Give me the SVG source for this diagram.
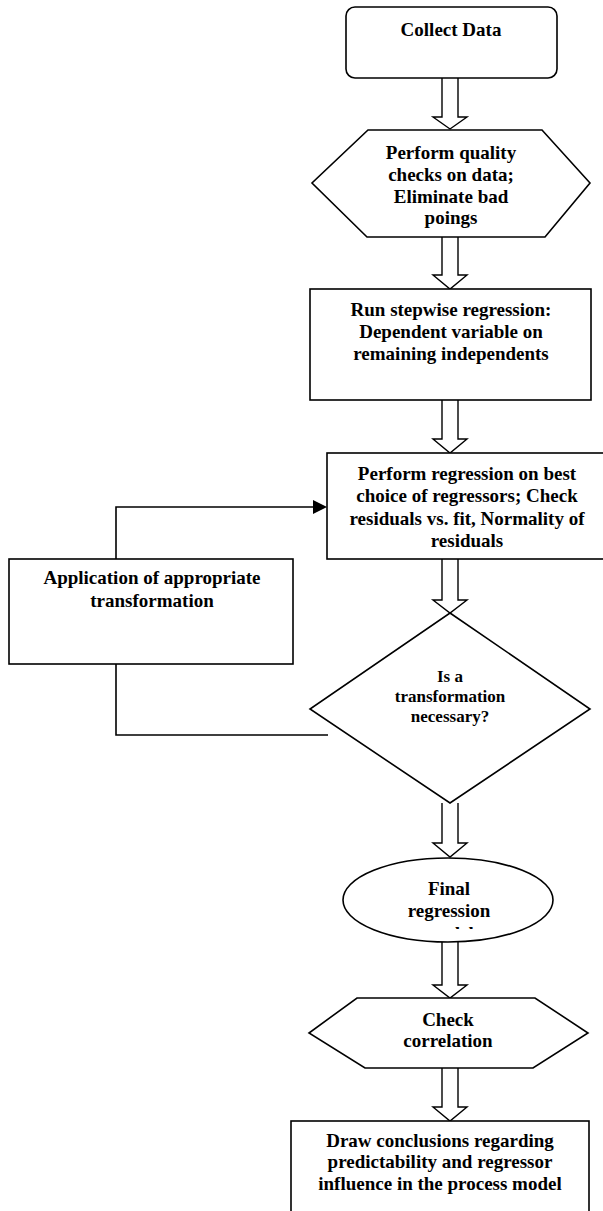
<svg xmlns="http://www.w3.org/2000/svg" width="603" height="1211" viewBox="0 0 603 1211">
<style>
.s{fill:#fff;stroke:#000;stroke-width:1.6}
.ln{fill:none;stroke:#000;stroke-width:1.6}
.ba{fill:#fff;stroke:#000;stroke-width:1.4}
text{font-family:"Liberation Serif","Times New Roman",serif;font-weight:bold;font-size:19px;fill:#000;text-anchor:middle}
.sm{font-size:17px}
</style>
<defs>
<clipPath id="ellclip"><rect x="340" y="850" width="220" height="79"/></clipPath>
</defs>
<rect width="603" height="1211" fill="#fff"/>
<g id="connectors">
<path class="ba" d="M442,78 V117 H433 L450,129 L467,117 H458 V78"/>
<path class="ba" d="M442,237 V275 H433 L450,289 L467,275 H458 V237"/>
<path class="ba" d="M442,400 V439 H433 L450,453 L467,439 H458 V400"/>
<path class="ba" d="M442,559 V600 H433 L450,613 L467,600 H458 V559"/>
<path class="ba" d="M442,803 V843 H433 L450,857 L467,843 H458 V803"/>
<path class="ba" d="M442,942 V985 H433 L450,998 L467,985 H458 V942"/>
<path class="ba" d="M442,1068 V1107 H433 L450,1121 L467,1107 H458 V1068"/>
<path class="ln" d="M116,559 V507 H314"/>
<polygon points="313,500 327,507 313,514" fill="#000"/>
<path class="ln" d="M116,664 V735 H328"/>
</g>
<g id="collect">
<rect class="s" x="346" y="7" width="211" height="71" rx="9"/>
<text x="451" y="36">Collect Data</text>
</g>
<g id="quality">
<polygon class="s" points="368,130 542,130 590,183 545,237 367,237 312,183"/>
<text x="451" y="159">Perform quality</text>
<text x="451" y="181">checks on data;</text>
<text x="451" y="203">Eliminate bad</text>
<text x="451" y="224">poings</text>
</g>
<g id="stepwise">
<rect class="s" x="310" y="289" width="281" height="111"/>
<text x="451" y="316">Run stepwise regression:</text>
<text x="451" y="338">Dependent variable on</text>
<text x="451" y="360">remaining independents</text>
</g>
<g id="regression">
<rect class="s" x="327" y="453" width="290" height="106"/>
<text x="467" y="480">Perform regression on best</text>
<text x="467" y="502">choice of regressors; Check</text>
<text x="467" y="525">residuals vs. fit, Normality of</text>
<text x="467" y="547">residuals</text>
</g>
<g id="transform">
<rect class="s" x="9" y="559" width="284" height="105"/>
<text x="152" y="584">Application of appropriate</text>
<text x="152" y="607">transformation</text>
</g>
<g id="decision">
<polygon class="s" points="450,613 590,709 450,803 310,709"/>
<text class="sm" x="450" y="682">Is a</text>
<text class="sm" x="450" y="702">transformation</text>
<text class="sm" x="450" y="722">necessary?</text>
</g>
<g id="final">
<ellipse class="s" cx="448" cy="900" rx="105" ry="42"/>
<text x="449" y="895">Final</text>
<text x="449" y="917">regression</text>
<text x="449" y="940" clip-path="url(#ellclip)">model</text>
</g>
<g id="correlation">
<polygon class="s" points="357,998 535,998 588,1033 533,1068 365,1068 309,1033"/>
<text x="448" y="1026">Check</text>
<text x="448" y="1047">correlation</text>
</g>
<g id="conclusions">
<rect class="s" x="291" y="1121" width="298" height="100"/>
<text x="440" y="1147">Draw conclusions regarding</text>
<text x="440" y="1168">predictability and regressor</text>
<text x="440" y="1190">influence in the process model</text>
</g>
</svg>
